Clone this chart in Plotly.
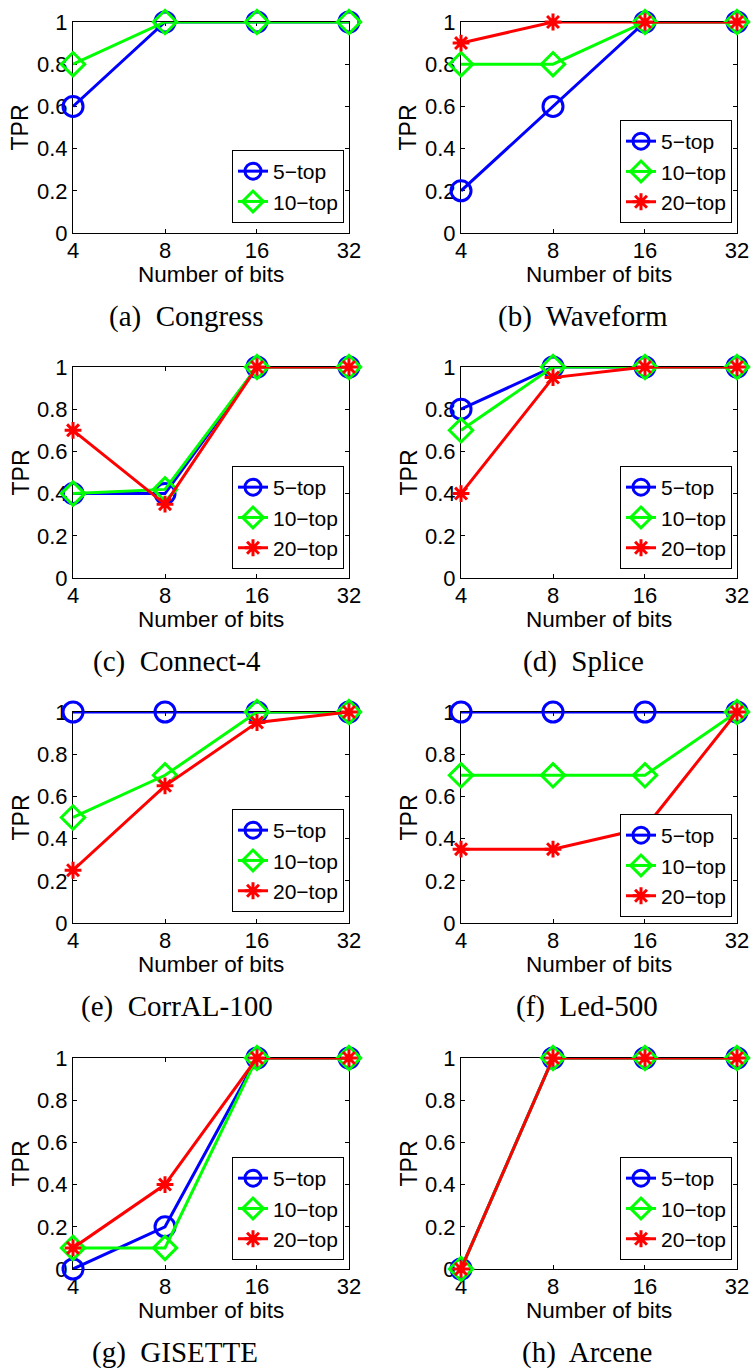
import math
import plotly.graph_objects as go

W, H = 751, 1368

# ---- data -------------------------------------------------------------
bits = [4, 8, 16, 32]
bit_labels = ["4", "8", "16", "32"]
tpr_ticks = [0, 0.2, 0.4, 0.6, 0.8, 1]
tpr_labels = ["0", "0.2", "0.4", "0.6", "0.8", "1"]

panel_captions = ["(a)  Congress", "(b)  Waveform", "(c)  Connect-4", "(d)  Splice",
                  "(e)  CorrAL-100", "(f)  Led-500", "(g)  GISETTE", "(h)  Arcene"]

congress_5 = [0.6, 1, 1, 1]
congress_10 = [0.8, 1, 1, 1]

waveform_5 = [0.2, 0.6, 1, 1]
waveform_10 = [0.8, 0.8, 1, 1]
waveform_20 = [0.9, 1, 1, 1]

connect4_5 = [0.4, 0.4, 1, 1]
connect4_10 = [0.4, 0.42, 1, 1]
connect4_20 = [0.7, 0.35, 1, 1]

splice_5 = [0.8, 1, 1, 1]
splice_10 = [0.7, 1, 1, 1]
splice_20 = [0.4, 0.95, 1, 1]

corral_5 = [1, 1, 1, 1]
corral_10 = [0.5, 0.7, 1, 1]
corral_20 = [0.25, 0.65, 0.95, 1]

led_5 = [1, 1, 1, 1]
led_10 = [0.7, 0.7, 0.7, 1]
led_20 = [0.35, 0.35, 0.45, 1]

gisette_5 = [0, 0.2, 1, 1]
gisette_10 = [0.1, 0.1, 1, 1]
gisette_20 = [0.1, 0.4, 1, 1]

arcene_5 = [0, 1, 1, 1]
arcene_10 = [0, 1, 1, 1]
arcene_20 = [0, 1, 1, 1]

panels = [
    [congress_5, congress_10],
    [waveform_5, waveform_10, waveform_20],
    [connect4_5, connect4_10, connect4_20],
    [splice_5, splice_10, splice_20],
    [corral_5, corral_10, corral_20],
    [led_5, led_10, led_20],
    [gisette_5, gisette_10, gisette_20],
    [arcene_5, arcene_10, arcene_20],
]

series_names = ["5−top", "10−top", "20−top"]

# ---- styling ----------------------------------------------------------
series_style = [
    dict(color="#0000ff", symbol="circle-open", size=20),
    dict(color="#00ff00", symbol="diamond-open", size=18),
    dict(color="#ff0000", symbol="asterisk-open", size=14),
]
SANS = "Liberation Sans, Arial, Helvetica, sans-serif"
SERIF = "Liberation Serif, Times New Roman, serif"

# plot-area boxes in pixels: left, top, right, bottom
col_x = [(73, 349), (461, 737)]
row_y = [(22, 233), (367, 578), (712, 923), (1058, 1269)]
caption_cx = [186, 583, 177, 583, 177, 587, 175, 587]
legend_inset = [10, 10, 9, 9, 11, 6, 9, 9]

# small pad so the end points at 4 and 32 stay inside the log range
eps = 1e-4
x_range = [math.log10(bits[0]) - eps, math.log10(bits[-1]) + eps]

fig = go.Figure()
layout = dict(
    template="none",
    width=W, height=H,
    margin=dict(l=0, r=0, t=0, b=0, pad=0, autoexpand=False),
    paper_bgcolor="white", plot_bgcolor="white",
    showlegend=True,
    annotations=[],
)

for i, series in enumerate(panels):
    r, c = divmod(i, 2)
    left, right = col_x[c]
    top, bottom = row_y[r]
    n = i + 1
    xa = "x" if n == 1 else f"x{n}"
    ya = "y" if n == 1 else f"y{n}"
    lg = "legend" if n == 1 else f"legend{n}"

    for k, vals in enumerate(series):
        st = series_style[k]
        fig.add_trace(go.Scatter(
            x=bits, y=vals, xaxis=xa, yaxis=ya, legend=lg,
            name=series_names[k], mode="lines+markers",
            line=dict(color=st["color"], width=3),
            marker=dict(symbol=st["symbol"], size=st["size"], color=st["color"],
                        line=dict(color=st["color"], width=3)),
            cliponaxis=False,
        ))

    axis_common = dict(
        showline=True, linecolor="black", linewidth=1, mirror="ticks",
        ticks="inside", ticklen=4, tickwidth=1, tickcolor="black",
        showgrid=False, zeroline=False, layer="below traces", automargin=False,
        tickfont=dict(family=SANS, size=22, color="black"),
        fixedrange=True,
    )
    layout["xaxis" if n == 1 else f"xaxis{n}"] = dict(
        axis_common, type="log", range=x_range,
        tickvals=bits, ticktext=bit_labels, ticklabelstandoff=-2,
        domain=[left / W, right / W], anchor=ya,
    )
    layout["yaxis" if n == 1 else f"yaxis{n}"] = dict(
        axis_common, range=[0, 1], tickvals=tpr_ticks, ticktext=tpr_labels,
        domain=[(H - bottom) / H, (H - top) / H], anchor=xa,
    )
    layout[lg] = dict(
        x=(right - 5) / W, y=(H - bottom + legend_inset[i]) / H,
        xanchor="right", yanchor="bottom", xref="paper", yref="paper",
        bgcolor="white", bordercolor="black", borderwidth=1,
        font=dict(family=SANS, size=21, color="black"),
        tracegroupgap=0, itemclick=False, itemdoubleclick=False,
    )

    cx = (left + right) / 2
    cy = (top + bottom) / 2
    layout["annotations"] += [
        dict(text="Number of bits", x=cx / W, y=(H - bottom - 41) / H,
             xref="paper", yref="paper", xanchor="center", yanchor="middle",
             showarrow=False, font=dict(family=SANS, size=22.5, color="black")),
        dict(text="TPR", x=(left - 53) / W, y=(H - cy) / H, textangle=-90,
             xref="paper", yref="paper", xanchor="center", yanchor="middle",
             showarrow=False, font=dict(family=SANS, size=23, color="black")),
        dict(text=panel_captions[i], x=caption_cx[i] / W, y=(H - bottom - 83) / H,
             xref="paper", yref="paper", xanchor="center", yanchor="middle",
             showarrow=False, font=dict(family=SERIF, size=29, color="black")),
    ]

fig.update_layout(**layout)
fig.write_html("out.html")
